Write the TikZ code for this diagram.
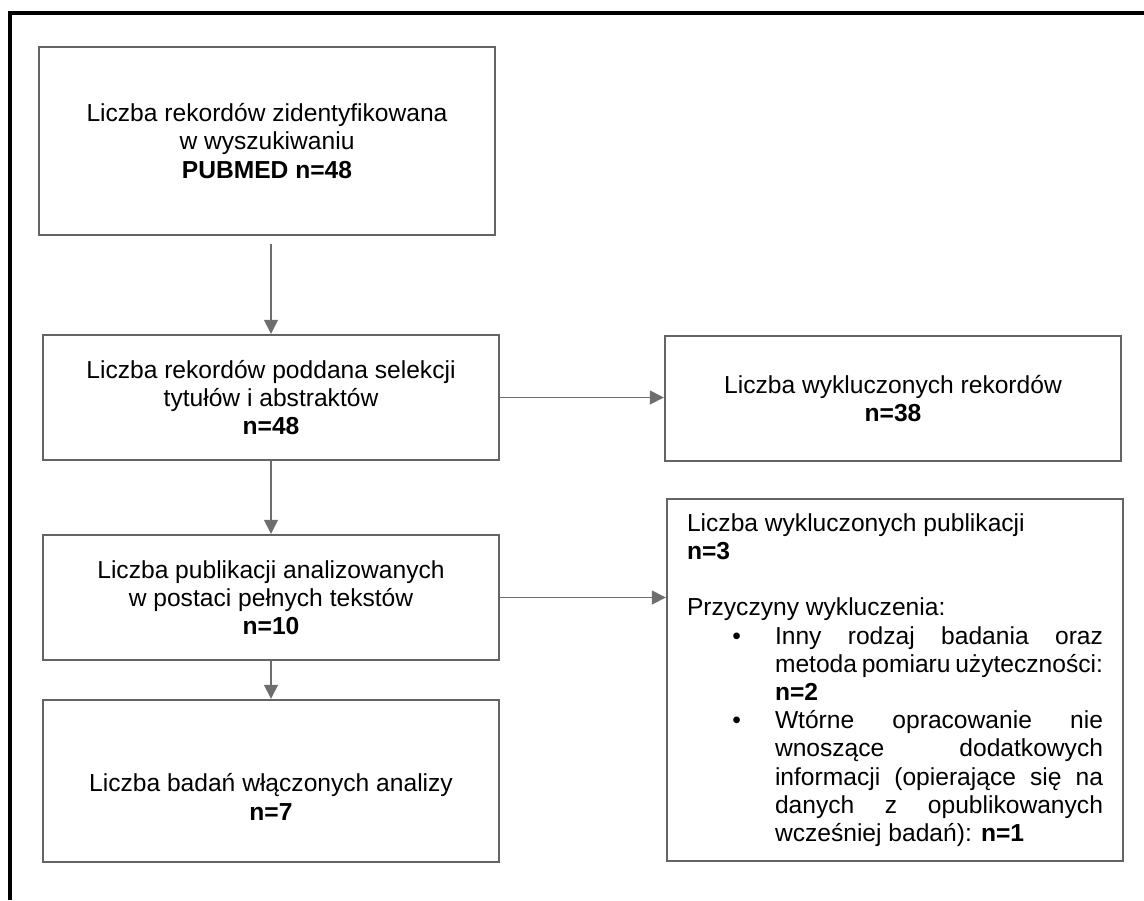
\documentclass[tikz,border=0pt]{standalone}
\usepackage{fontspec}
\setmainfont{Liberation Sans}
\usetikzlibrary{arrows.meta}
\definecolor{edgegray}{RGB}{100,100,100}
\definecolor{flowgray}{RGB}{110,110,110}
\hbadness=10000

\begin{document}
\begin{tikzpicture}[x=0.5pt,y=-0.5pt,font=\fontsize{12.3}{14.1}\selectfont,
    stage/.style={draw=edgegray,line width=1.2pt,minimum width=228pt,align=center,inner sep=0pt},
    flow/.style={draw=flowgray,line width=0.7pt,-{Triangle[length=7pt,width=7pt]}}]

  \useasboundingbox (0,0) rectangle (1144,900);
  \draw[line width=1.7pt] (10,900) -- (10,13) -- (1144,13);

  \begin{scope}[every node/.style={stage}]
    \node[minimum height=94pt]   (ident)  at (267,141)   {Liczba rekordów zidentyfikowana\\w wyszukiwaniu\\\textbf{PUBMED n=48}};
    \node[minimum height=62.5pt] (screen) at (271,397.5) {Liczba rekordów poddana selekcji\\tytułów i abstraktów\\\textbf{n=48}};
    \node[minimum height=62.5pt] (full)   at (271,597.5) {Liczba publikacji analizowanych\\w postaci pełnych tekstów\\\textbf{n=10}};
    \node[minimum height=81pt]   (incl)   at (271,781)   {};
    \node[minimum height=62.5pt] (excl)   at (893,398.5) {Liczba wykluczonych rekordów\\\textbf{n=38}};
    \node[minimum height=181pt,text width=208pt,align=justify,inner xsep=10pt] (why) at (895,680)
      {Liczba wykluczonych publikacji\par
       \textbf{n=3}\par
       \vspace{\baselineskip}
       Przyczyny wykluczenia:\par
       \hangindent=44pt\hangafter=0\noindent\llap{\textbullet\hspace{17pt}}Inny rodzaj badania oraz\linebreak
       metoda pomiaru użyteczności:\linebreak \textbf{n=2}\par
       \hangindent=44pt\hangafter=0\noindent\llap{\textbullet\hspace{17pt}}Wtórne opracowanie nie\linebreak
       wnoszące dodatkowych\linebreak informacji (opierające się na\linebreak
       danych z opublikowanych\linebreak wcześniej badań): \textbf{n=1}\par};
  \end{scope}

  \node[align=center] (incltxt) at (271,797) {Liczba badań włączonych analizy\\\textbf{n=7}};

  \draw[flow,shorten <=4pt] (ident.south -| screen.north) -- (screen.north);
  \draw[flow] (screen) -- (full);
  \draw[flow] (full) -- (incl);
  \draw[flow] (screen.east) -- (screen.east -| excl.west);
  \draw[flow] (full.east) -- (full.east -| why.west);

\end{tikzpicture}
\end{document}
